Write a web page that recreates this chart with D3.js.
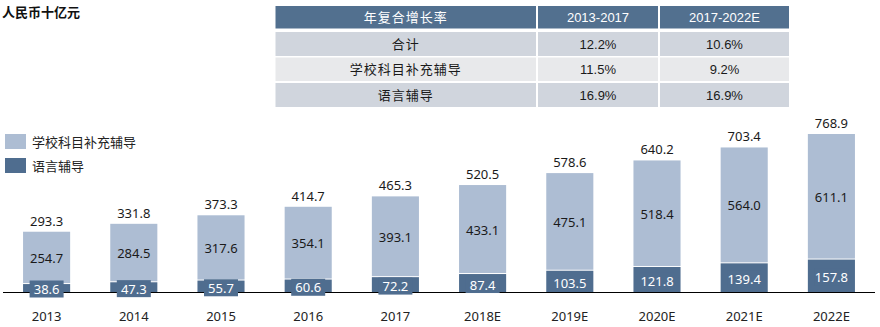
<!DOCTYPE html>
<html>
<head>
<meta charset="utf-8">
<script src="https://cdn.jsdelivr.net/npm/d3@7"></script>
<style>
  html, body { margin: 0; padding: 0; background: #fff; }
  svg { display: block; }
</style>
</head>
<body>
<svg id="chart" width="880" height="327"></svg>
<script>
// Chinese private tutoring market, RMB billions
const years = ["2013", "2014", "2015", "2016", "2017", "2018E", "2019E", "2020E", "2021E", "2022E"];
const schoolTutoring = [254.7, 284.5, 317.6, 354.1, 393.1, 433.1, 475.1, 518.4, 564.0, 611.1];
const languageTutoring = [38.6, 47.3, 55.7, 60.6, 72.2, 87.4, 103.5, 121.8, 139.4, 157.8];
const totals = [293.3, 331.8, 373.3, 414.7, 465.3, 520.5, 578.6, 640.2, 703.4, 768.9];

// CAGR table
const cagrHeader = ["年复合增长率", "2013-2017", "2017-2022E"];
const cagrRows = [
  ["合计", "12.2%", "10.6%"],
  ["学校科目补充辅导", "11.5%", "9.2%"],
  ["语言辅导", "16.9%", "16.9%"]
];

const seriesNames = ["学校科目补充辅导", "语言辅导"];

const LIGHT = "#adbdd3";
const DARK = "#4f6d8f";
const NUM_FONT = "'Noto Sans', 'Noto Sans CJK SC', sans-serif";
const CJK_FONT = "'Noto Sans CJK SC', 'Noto Sans', sans-serif";
const TABLE_FONT = "'Liberation Sans', 'Noto Sans CJK SC', sans-serif";

const svg = d3.select("#chart");

// Unit title
svg.append("text")
  .attr("x", 2).attr("y", 11)
  .attr("dominant-baseline", "central")
  .attr("font-family", CJK_FONT)
  .attr("font-size", 13).attr("font-weight", "bold")
  .attr("fill", "#111")
  .text("人民币十亿元");

// ---- CAGR table ----
const colEdges = [275.5, 537, 659, 789];
const rowEdges = [[6, 28.5], [32, 56], [57.5, 81], [83, 107]];
const rowFills = ["#52708f", "#d0d5dd", "#e8e9eb", "#d0d5dd"];
const tableData = [cagrHeader].concat(cagrRows);
const table = svg.append("g");
tableData.forEach((row, r) => {
  row.forEach((cell, c) => {
    const x0 = colEdges[c] + (c > 0 ? 1 : 0);
    const x1 = colEdges[c + 1] - (c < 2 ? 1 : 0);
    const [y0, y1] = rowEdges[r];
    table.append("rect")
      .attr("x", x0).attr("y", y0)
      .attr("width", x1 - x0).attr("height", y1 - y0)
      .attr("fill", rowFills[r]);
    table.append("text")
      .attr("x", (x0 + x1) / 2).attr("y", (y0 + y1) / 2)
      .attr("text-anchor", "middle")
      .attr("dominant-baseline", "central")
      .attr("font-family", TABLE_FONT)
      .attr("font-size", 13)
      .attr("letter-spacing", c === 0 ? 1 : 0)
      .attr("fill", r === 0 ? "#fff" : "#1a1a1a")
      .text(cell);
  });
});

// ---- Legend ----
const legend = svg.append("g");
[LIGHT, DARK].forEach((col, i) => {
  const y = 134 + i * 24;
  legend.append("rect")
    .attr("x", 5).attr("y", y).attr("width", 21).attr("height", 15)
    .attr("fill", col);
  legend.append("text")
    .attr("x", 32).attr("y", y + 7.5)
    .attr("dominant-baseline", "central")
    .attr("font-family", CJK_FONT)
    .attr("font-size", 13)
    .attr("fill", "#222")
    .text(seriesNames[i]);
});

// ---- Bars ----
const x = d3.scaleBand()
  .domain(years)
  .range([3, 875])
  .paddingInner(0.46)
  .paddingOuter(0.23);

const baseY = 292;
const y = d3.scaleLinear().domain([0, 800]).range([baseY, baseY - 800 * 158 / 768.9]);

const data = years.map((yr, i) => ({
  year: yr,
  school: schoolTutoring[i],
  lang: languageTutoring[i],
  total: totals[i]
}));

const bw = x.bandwidth();

// axis baseline and year labels (drawn first so the value tags sit over the line)
const xAxis = svg.append("g")
  .attr("transform", `translate(0,${baseY})`)
  .call(d3.axisBottom(x).tickSize(0).tickPadding(20));
xAxis.select(".domain").attr("stroke", "#000").attr("stroke-width", 1.2)
  .attr("d", "M3,0.5H875");
xAxis.selectAll("text")
  .attr("font-family", NUM_FONT)
  .attr("font-size", 13)
  .attr("fill", "#222");

const bars = svg.append("g").selectAll("g").data(data).join("g")
  .attr("transform", d => `translate(${x(d.year)},0)`);

// language tutoring (bottom segment)
bars.append("rect")
  .attr("x", 0).attr("width", bw)
  .attr("y", d => y(d.lang))
  .attr("height", d => y(0) - y(d.lang))
  .attr("fill", DARK);

// school-subject tutoring (stacked on top, 1px white seam)
bars.append("rect")
  .attr("x", 0).attr("width", bw)
  .attr("y", d => y(d.lang + d.school))
  .attr("height", d => y(d.lang) - y(d.lang + d.school) - 1)
  .attr("fill", LIGHT);

// labels inside the light segment
bars.append("text")
  .attr("x", bw / 2)
  .attr("y", d => (y(d.lang + d.school) + y(d.lang)) / 2)
  .attr("text-anchor", "middle")
  .attr("dominant-baseline", "central")
  .attr("font-family", NUM_FONT).attr("font-size", 13)
  .attr("fill", "#1a1a1a")
  .text(d => d.school.toFixed(1));

// labels for the dark segment, on a dark tag so small segments stay readable
const tags = bars.append("g")
  .attr("transform", d => `translate(${bw / 2},${Math.min((y(d.lang) + y(0)) / 2 + 1.5, y(0) - 3)})`);
tags.append("rect")
  .attr("x", -17).attr("y", -8.5).attr("width", 34).attr("height", 17)
  .attr("fill", DARK);
tags.append("text")
  .attr("text-anchor", "middle")
  .attr("dominant-baseline", "central")
  .attr("font-family", NUM_FONT).attr("font-size", 13)
  .attr("fill", "#fff")
  .text(d => d.lang.toFixed(1));

// totals above bars
bars.append("text")
  .attr("x", bw / 2)
  .attr("y", d => y(d.total) - 6)
  .attr("text-anchor", "middle")
  .attr("font-family", NUM_FONT).attr("font-size", 13)
  .attr("fill", "#1a1a1a")
  .text(d => d.total.toFixed(1));
</script>
</body>
</html>
